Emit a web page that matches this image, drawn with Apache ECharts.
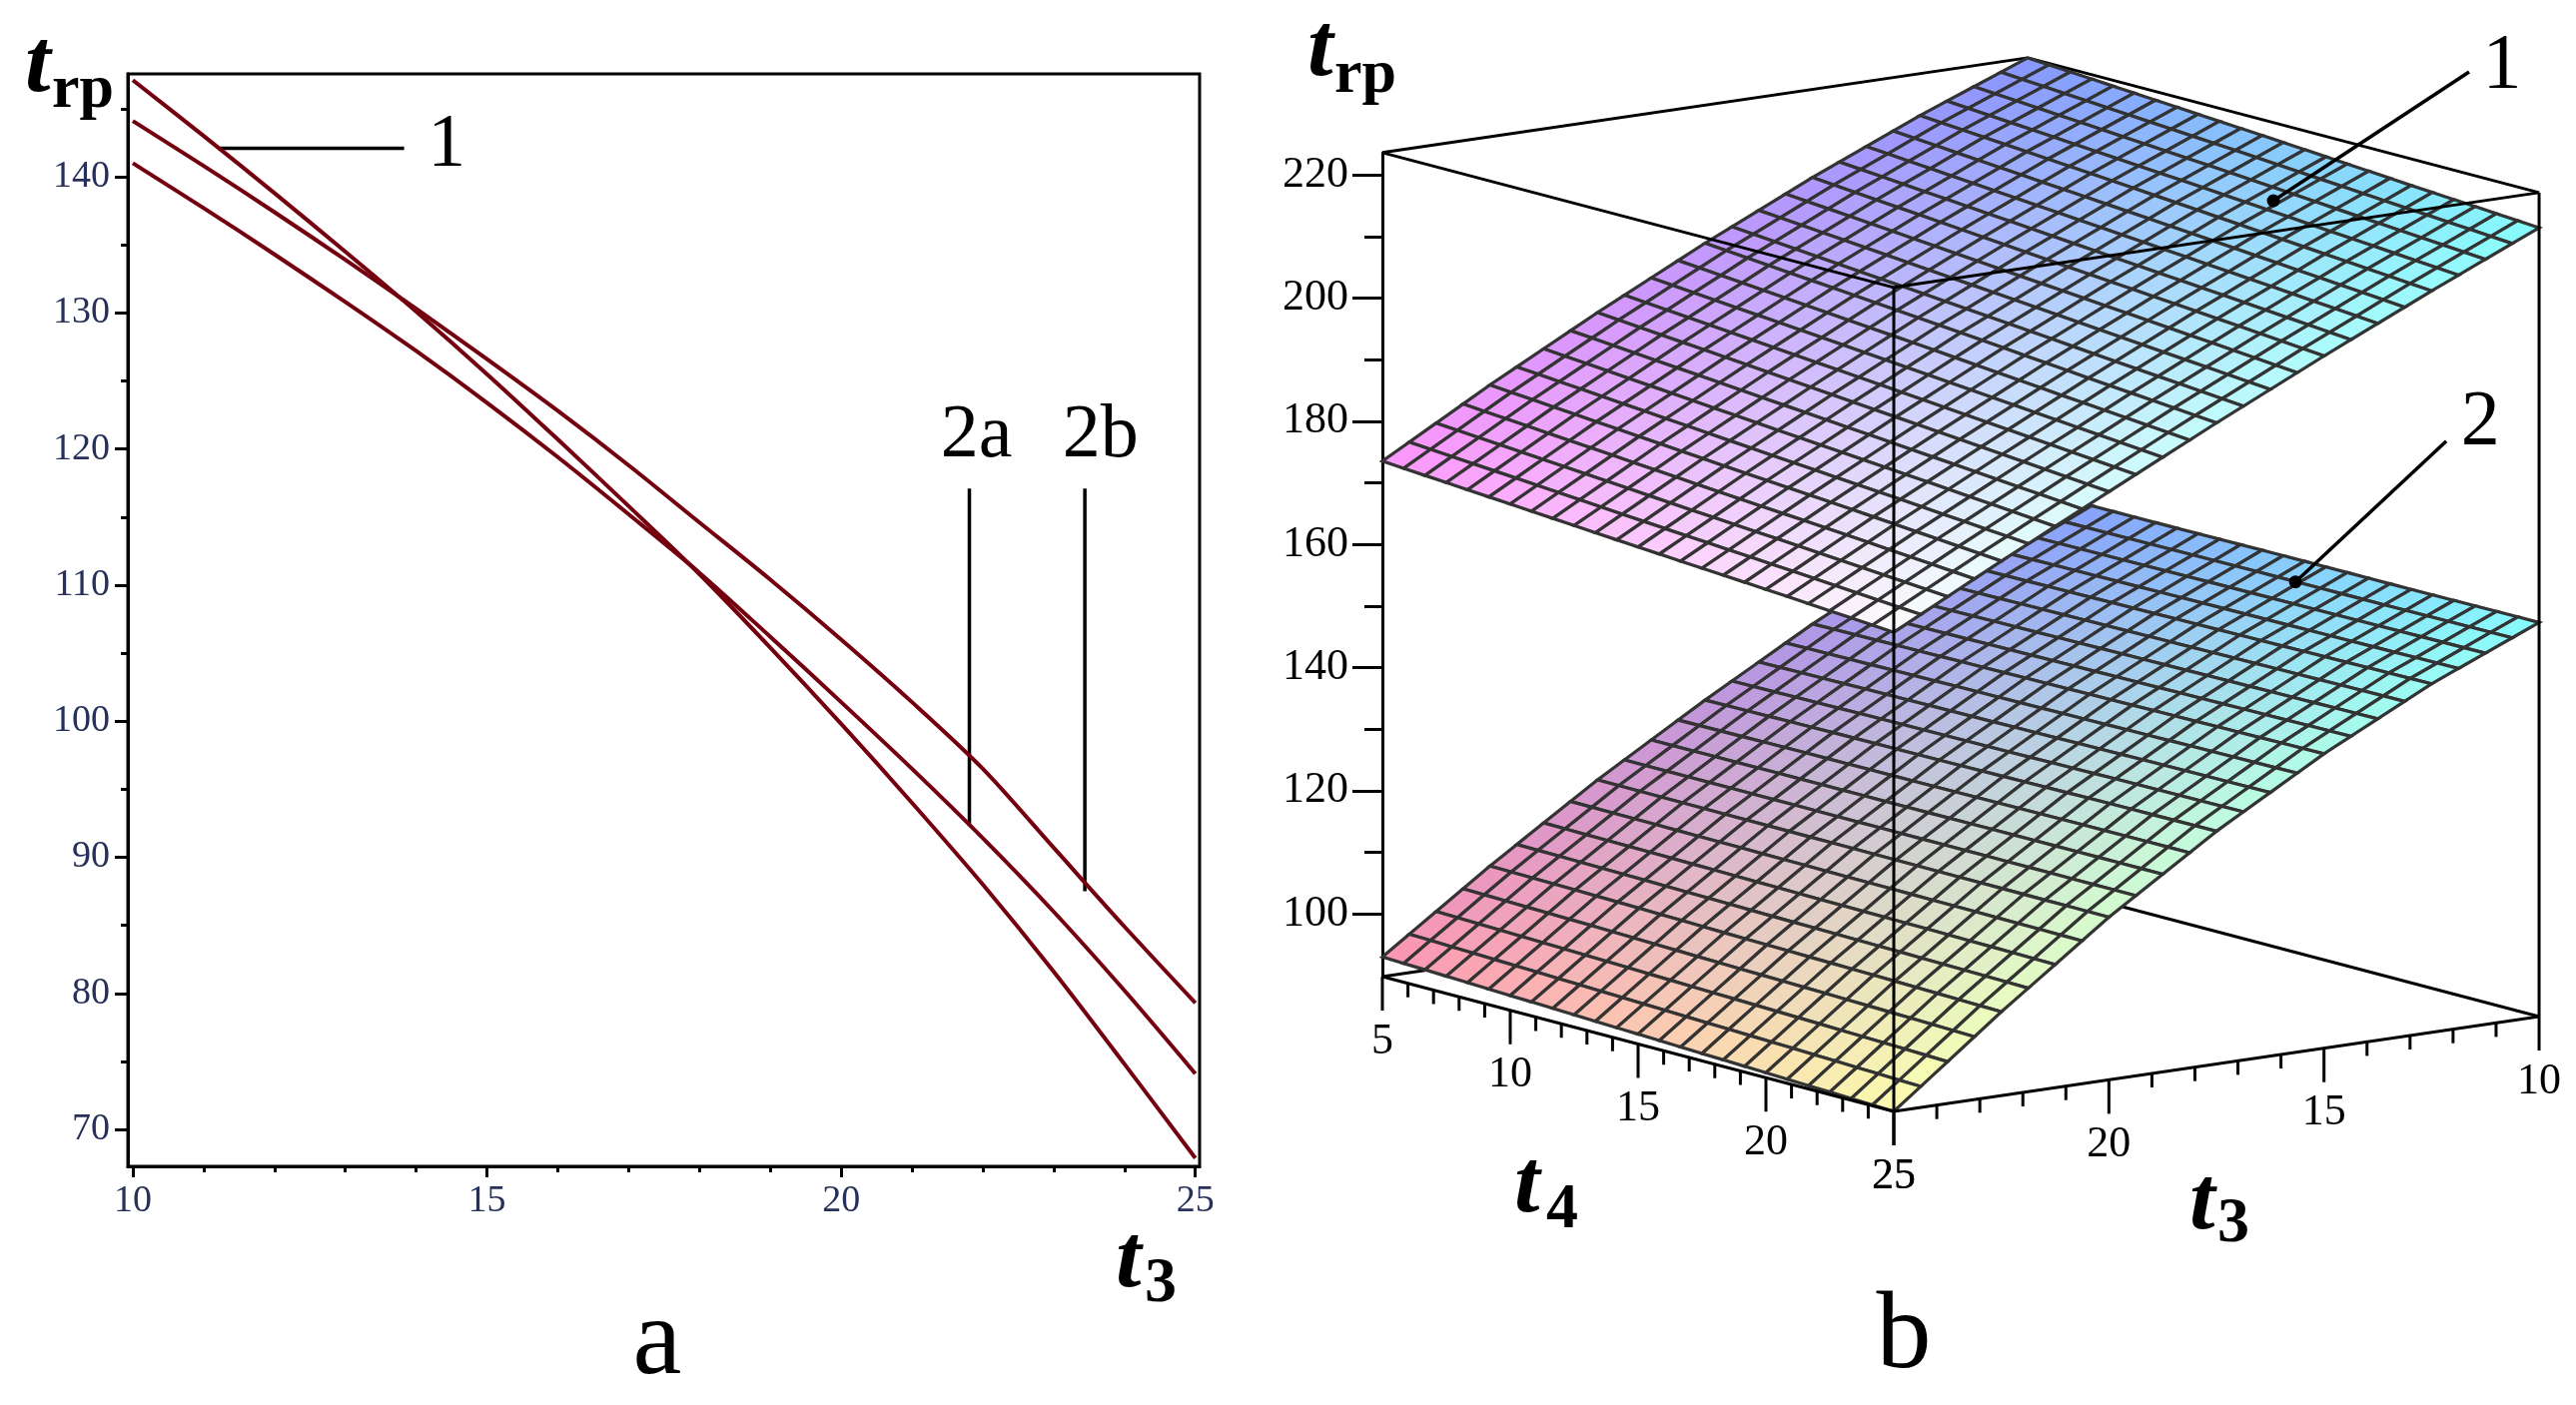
<!DOCTYPE html>
<html>
<head>
<meta charset="utf-8">
<title>t_rp (t3, t4)</title>
<script src="https://cdn.jsdelivr.net/npm/echarts@6/dist/echarts.min.js"></script>
<style>
  html, body { margin: 0; padding: 0; background: #fff; }
  #chart { width: 2579px; height: 1407px; }
</style>
</head>
<body>
<div id="chart"></div>
<script>
// ---- panel a: t_rp against t3, three curves ----
var t3Values = [10, 11, 12, 13, 14, 15, 16, 17, 18, 19, 20, 21, 22, 23, 24, 25];
var curve1  = [147.1, 143.0, 138.8, 134.5, 130.1, 125.5, 120.7, 115.8, 110.8, 105.4, 99.8, 94.0, 88.0, 81.6, 74.8, 67.9];
var curve2a = [141.0, 137.7, 134.3, 130.8, 127.2, 123.4, 119.4, 115.2, 110.9, 106.2, 101.4, 96.5, 91.4, 86.0, 80.2, 74.1];
var curve2b = [144.1, 140.8, 137.4, 133.9, 130.3, 126.6, 122.8, 118.8, 114.6, 110.4, 106.0, 101.4, 96.5, 90.7, 84.9, 79.3];
var xTicksA = [10, 15, 20, 25];
var xMinorA = [11, 12, 13, 14, 16, 17, 18, 19, 21, 22, 23, 24];
var yTicksA = [70, 80, 90, 100, 110, 120, 130, 140];
var yMinorA = [75, 85, 95, 105, 115, 125, 135, 145];
// leader lines [x1, y1, x2, y2] and labels [text, x, y], in data units
var leadersA = [[11.2, 142.1, 13.83, 142.1], [21.81, 117.1, 21.81, 92.3], [23.44, 117.1, 23.44, 87.5]];
var labelsA = [['1', 14.43, 142.3], ['2a', 21.91, 120.9], ['2b', 23.66, 120.9]];

// ---- panel b: surfaces t_rp(t3, t4) ----
var gridT3 = [10, 12.5, 15, 17.5, 20, 22.5, 25];
var gridT4 = [5, 10, 15, 20, 25];
// rows follow gridT4, columns follow gridT3
var surface1 = [
  [223.6, 216.8, 209.3, 201.2, 192.5, 183.3, 173.5],
  [222.2, 215.2, 207.5, 199.4, 190.7, 181.6, 172.0],
  [220.8, 213.6, 205.7, 197.6, 188.9, 179.9, 170.5],
  [219.3, 211.9, 204.0, 195.7, 187.1, 178.3, 169.1],
  [217.9, 210.2, 202.2, 193.9, 185.3, 176.6, 167.6]
];
var surface2 = [
  [153.6, 145.6, 136.8, 127.0, 116.6, 105.2, 93.0],
  [153.6, 145.8, 137.0, 127.2, 116.5, 104.8, 92.2],
  [153.7, 146.0, 137.2, 127.3, 116.4, 104.3, 91.4],
  [153.7, 146.2, 137.4, 127.5, 116.3, 103.9, 90.6],
  [153.8, 146.4, 137.6, 127.6, 116.2, 103.4, 89.8]
];
var zRange = [89.8, 223.6];
var zTicks = [100, 120, 140, 160, 180, 200, 220];
var zMinor = [110, 130, 150, 170, 190, 210];
var t3TicksB = [10, 15, 20, 25];
var t4TicksB = [5, 10, 15, 20, 25];
// marked point on each surface: [label, t3, t4, t_rp]
var markers = [['1', 11.6, 17.3, 215.5], ['2', 10.64, 16.55, 151.8]];

// ---- look ----
var SERIF = 'Liberation Serif';
var RED = '#74000f';
var TICK_INK = '#26305a';
var MESH = '#333333';
var SUB_T3 = 4, SUB_T4 = 6;   // mesh lines per data cell

// oblique view: screen px per unit of t3 / t4, and px per unit of t_rp
var T3_STEP = [-43.07, 6.33];
var T4_STEP = [25.6, 6.75];
var Z_PX = 6.167;
var T3_LO = gridT3[0], T3_HI = gridT3[gridT3.length - 1];
var T4_LO = gridT4[0], T4_HI = gridT4[gridT4.length - 1];

function proj(t3, t4, z) {
  var u = T3_STEP[0] * (t3 - T3_HI) + T4_STEP[0] * (t4 - T4_LO);
  var v = z - (T3_STEP[1] * (t3 - T3_HI) + T4_STEP[1] * (t4 - T4_LO)) / Z_PX;
  return [u, v];
}

// colour by position: red follows t3, green follows t4, blue follows height
function shade(t3, t4, z) {
  var s3 = (t3 - T3_LO) / (T3_HI - T3_LO);
  var s4 = (t4 - T4_LO) / (T4_HI - T4_LO);
  var sz = (z - zRange[0]) / (zRange[1] - zRange[0]);
  var r = Math.round(134 + 118 * s3);
  var g = Math.round(150 + 102 * s4);
  var b = Math.round(Math.min(252, 174 + 165 * sz));
  return 'rgb(' + r + ',' + g + ',' + b + ')';
}

function seg(api, a, b, w) {
  var p = api.coord(proj(a[0], a[1], a[2]));
  var q = api.coord(proj(b[0], b[1], b[2]));
  return { type: 'line', shape: { x1: p[0], y1: p[1], x2: q[0], y2: q[1] }, style: { stroke: '#000', lineWidth: w || 3 } };
}

function surfaceRenderer(surf) {
  return function (params, api) {
    var i = api.value(0), j = api.value(1);
    var a = gridT3[i], b = gridT3[i + 1], c = gridT4[j], d = gridT4[j + 1];
    var z00 = surf[j][i], z10 = surf[j][i + 1], z01 = surf[j + 1][i], z11 = surf[j + 1][i + 1];
    function h(s, r) { return z00 * (1 - s) * (1 - r) + z10 * s * (1 - r) + z01 * (1 - s) * r + z11 * s * r; }
    function pt(s, r) { return api.coord(proj(a + (b - a) * s, c + (d - c) * r, h(s, r))); }
    var kids = [];
    for (var p = 0; p < SUB_T3; p++) {
      for (var q = 0; q < SUB_T4; q++) {
        var s0 = p / SUB_T3, s1 = (p + 1) / SUB_T3, r0 = q / SUB_T4, r1 = (q + 1) / SUB_T4;
        var sm = (s0 + s1) / 2, rm = (r0 + r1) / 2;
        kids.push({
          type: 'polygon',
          shape: { points: [pt(s0, r0), pt(s1, r0), pt(s1, r1), pt(s0, r1)] },
          style: { fill: shade(a + (b - a) * sm, c + (d - c) * rm, h(sm, rm)), stroke: MESH, lineWidth: 3.2 }
        });
      }
    }
    return { type: 'group', children: kids };
  };
}

var cells = [];
for (var j = 0; j < gridT4.length - 1; j++) {
  for (var i = 0; i < gridT3.length - 1; i++) cells.push([i, j]);
}

function boxBack(params, api) {
  var z0 = zRange[0], z1 = zRange[1];
  return { type: 'group', children: [
    seg(api, [T3_HI, T4_LO, z0], [T3_LO, T4_LO, z0]),
    seg(api, [T3_LO, T4_LO, z0], [T3_LO, T4_HI, z0]),
    seg(api, [T3_LO, T4_LO, z0], [T3_LO, T4_LO, z1]),
    seg(api, [T3_HI, T4_LO, z1], [T3_LO, T4_LO, z1]),
    seg(api, [T3_LO, T4_LO, z1], [T3_LO, T4_HI, z1])
  ] };
}

function boxFront(params, api) {
  var z0 = zRange[0], z1 = zRange[1];
  var kids = [
    seg(api, [T3_HI, T4_HI, z0], [T3_HI, T4_HI, z1]),
    seg(api, [T3_LO, T4_HI, z0], [T3_LO, T4_HI, z1]),
    seg(api, [T3_HI, T4_LO, z1], [T3_HI, T4_HI, z1]),
    seg(api, [T3_HI, T4_HI, z1], [T3_LO, T4_HI, z1]),
    seg(api, [T3_HI, T4_LO, z0], [T3_HI, T4_HI, z0]),
    seg(api, [T3_HI, T4_HI, z0], [T3_LO, T4_HI, z0])
  ];
  function tick(p, major) {
    kids.push({ type: 'line', shape: { x1: p[0], y1: p[1], x2: p[0], y2: p[1] + (major ? 34 : 14) },
      style: { stroke: '#000', lineWidth: 3 } });
  }
  function label(p, txt) {
    kids.push({ type: 'text', x: p[0], y: p[1] + 65,
      style: { text: txt, fontSize: 44, fontFamily: SERIF, fill: '#000', align: 'center', verticalAlign: 'middle' } });
  }
  var t, p;
  for (t = T4_LO; t <= T4_HI; t++) tick(api.coord(proj(T3_HI, t, z0)), t4TicksB.indexOf(t) >= 0);
  for (t = T3_LO; t <= T3_HI; t++) tick(api.coord(proj(t, T4_HI, z0)), t3TicksB.indexOf(t) >= 0);
  t4TicksB.forEach(function (v) { label(api.coord(proj(T3_HI, v, z0)), String(v)); });
  t3TicksB.forEach(function (v) { label(api.coord(proj(v, T4_HI, z0)), String(v)); });
  // leaders to the marked points
  var offs = [[196, -129, 229, -134], [151, -141, 185, -159]];
  markers.forEach(function (m, k) {
    p = api.coord(proj(m[1], m[2], m[3]));
    var o = offs[k];
    kids.push({ type: 'line', shape: { x1: p[0], y1: p[1], x2: p[0] + o[0], y2: p[1] + o[1] }, style: { stroke: '#000', lineWidth: 3.5 } });
    kids.push({ type: 'circle', shape: { cx: p[0], cy: p[1], r: 6.5 }, style: { fill: '#000' } });
    kids.push({ type: 'text', x: p[0] + o[2], y: p[1] + o[3],
      style: { text: m[0], fontSize: 78, fontFamily: SERIF, fill: '#000', align: 'center', verticalAlign: 'middle' } });
  });
  return { type: 'group', children: kids };
}

function annotationsA(params, api) {
  var kids = [];
  leadersA.forEach(function (l) {
    var p = api.coord([l[0], l[1]]), q = api.coord([l[2], l[3]]);
    kids.push({ type: 'line', shape: { x1: p[0], y1: p[1], x2: q[0], y2: q[1] }, style: { stroke: '#000', lineWidth: 3.5 } });
  });
  labelsA.forEach(function (t) {
    var p = api.coord([t[1], t[2]]);
    kids.push({ type: 'text', x: p[0], y: p[1],
      style: { text: t[0], fontSize: 76, fontFamily: SERIF, fill: '#000', align: 'center', verticalAlign: 'middle' } });
  });
  return { type: 'group', children: kids };
}

function pairs(ys) { return t3Values.map(function (t, k) { return [t, ys[k]]; }); }

function lineSeries(name, ys) {
  return {
    name: name, type: 'line', xAxisIndex: 0, yAxisIndex: 0,
    data: pairs(ys), smooth: 0.3, symbol: 'none', silent: true,
    lineStyle: { color: RED, width: 4 }
  };
}

function gtext(x, y, txt, size, weight, style, align) {
  return { type: 'text', x: x, y: y, silent: true,
    style: { text: txt, fontSize: size, fontWeight: weight, fontStyle: style, fontFamily: SERIF,
      fill: '#000', align: align || 'left', verticalAlign: 'middle' } };
}

var tickLabelA = { fontSize: 38, fontFamily: SERIF, color: TICK_INK };

var chart = echarts.init(document.getElementById('chart'), null, { renderer: 'canvas' });
chart.setOption({
  animation: false,
  backgroundColor: '#ffffff',
  textStyle: { fontFamily: SERIF },
  grid: [
    { left: 128, top: 74, width: 1073, height: 1094, show: true, borderColor: '#000', borderWidth: 3, backgroundColor: 'transparent', outerBoundsMode: 'none' },
    { left: 1384, top: 51.7, width: 1160, height: 1110.06, outerBoundsMode: 'none' },
    { left: 1384, top: 153, width: 20, height: 825, outerBoundsMode: 'none' }
  ],
  xAxis: [
    { gridIndex: 0, type: 'value', min: 9.93, max: 25.06, position: 'bottom',
      axisLine: { show: true, onZero: false, lineStyle: { color: '#000', width: 3 } },
      axisTick: { show: true, customValues: xTicksA, length: 11, lineStyle: { color: '#000', width: 3 } },
      axisLabel: Object.assign({ customValues: xTicksA, margin: 16 }, tickLabelA),
      splitLine: { show: false } },
    { gridIndex: 0, type: 'value', min: 9.93, max: 25.06, position: 'bottom',
      axisLine: { show: false },
      axisTick: { show: true, customValues: xMinorA, length: 6, lineStyle: { color: '#000', width: 3 } },
      axisLabel: { show: false }, splitLine: { show: false } },
    { gridIndex: 1, type: 'value', min: 0, max: 1160, show: false },
    { gridIndex: 2, type: 'value', min: 0, max: 1, show: false }
  ],
  yAxis: [
    { gridIndex: 0, type: 'value', min: 67.29, max: 147.56, position: 'left',
      axisLine: { show: true, onZero: false, lineStyle: { color: '#000', width: 3 } },
      axisTick: { show: true, customValues: yTicksA, length: 13, lineStyle: { color: '#000', width: 3 } },
      axisLabel: Object.assign({ customValues: yTicksA, margin: 18 }, tickLabelA),
      splitLine: { show: false } },
    { gridIndex: 0, type: 'value', min: 67.29, max: 147.56, position: 'left',
      axisLine: { show: false },
      axisTick: { show: true, customValues: yMinorA, length: 7, lineStyle: { color: '#000', width: 3 } },
      axisLabel: { show: false }, splitLine: { show: false } },
    { gridIndex: 1, type: 'value', min: 60, max: 240, show: false },
    { gridIndex: 2, type: 'value', min: zRange[0], max: zRange[1], position: 'left',
      axisLine: { show: true, onZero: false, lineStyle: { color: '#000', width: 3 } },
      axisTick: { show: true, customValues: zTicks, length: 30, lineStyle: { color: '#000', width: 3 } },
      axisLabel: { customValues: zTicks, margin: 34, fontSize: 44, fontFamily: SERIF, color: '#000' },
      splitLine: { show: false } },
    { gridIndex: 2, type: 'value', min: zRange[0], max: zRange[1], position: 'left',
      axisLine: { show: false },
      axisTick: { show: true, customValues: zMinor, length: 18, lineStyle: { color: '#000', width: 3 } },
      axisLabel: { show: false }, splitLine: { show: false } }
  ],
  series: [
    lineSeries('1', curve1),
    lineSeries('2a', curve2a),
    lineSeries('2b', curve2b),
    { type: 'custom', xAxisIndex: 0, yAxisIndex: 0, clip: false, silent: true, data: [[10, 100]], renderItem: annotationsA },
    { type: 'custom', xAxisIndex: 2, yAxisIndex: 2, clip: false, silent: true, data: [[0, 100]], renderItem: boxBack },
    { type: 'custom', xAxisIndex: 2, yAxisIndex: 2, clip: false, silent: true, data: cells, renderItem: surfaceRenderer(surface2) },
    { type: 'custom', xAxisIndex: 2, yAxisIndex: 2, clip: false, silent: true, data: cells, renderItem: surfaceRenderer(surface1) },
    { type: 'custom', xAxisIndex: 2, yAxisIndex: 2, clip: false, silent: true, data: [[0, 100]], renderItem: boxFront }
  ],
  graphic: [
    gtext(25, 67, 't', 92, 'bold', 'italic'),
    gtext(52, 91, 'rp', 62, 'bold', 'normal'),
    gtext(1117, 1264, 't', 92, 'bold', 'italic'),
    gtext(1146, 1286, '3', 64, 'bold', 'normal'),
    gtext(658, 1346, 'a', 110, 'normal', 'normal', 'center'),
    gtext(1309, 51, 't', 92, 'bold', 'italic'),
    gtext(1336, 76, 'rp', 62, 'bold', 'normal'),
    gtext(1516, 1189, 't', 92, 'bold', 'italic'),
    gtext(1548, 1212, '4', 64, 'bold', 'normal'),
    gtext(2192, 1206, 't', 92, 'bold', 'italic'),
    gtext(2220, 1226, '3', 64, 'bold', 'normal'),
    gtext(1906, 1340, 'b', 110, 'normal', 'normal', 'center')
  ]
});
window.addEventListener('resize', function () { chart.resize(); });
</script>
</body>
</html>
